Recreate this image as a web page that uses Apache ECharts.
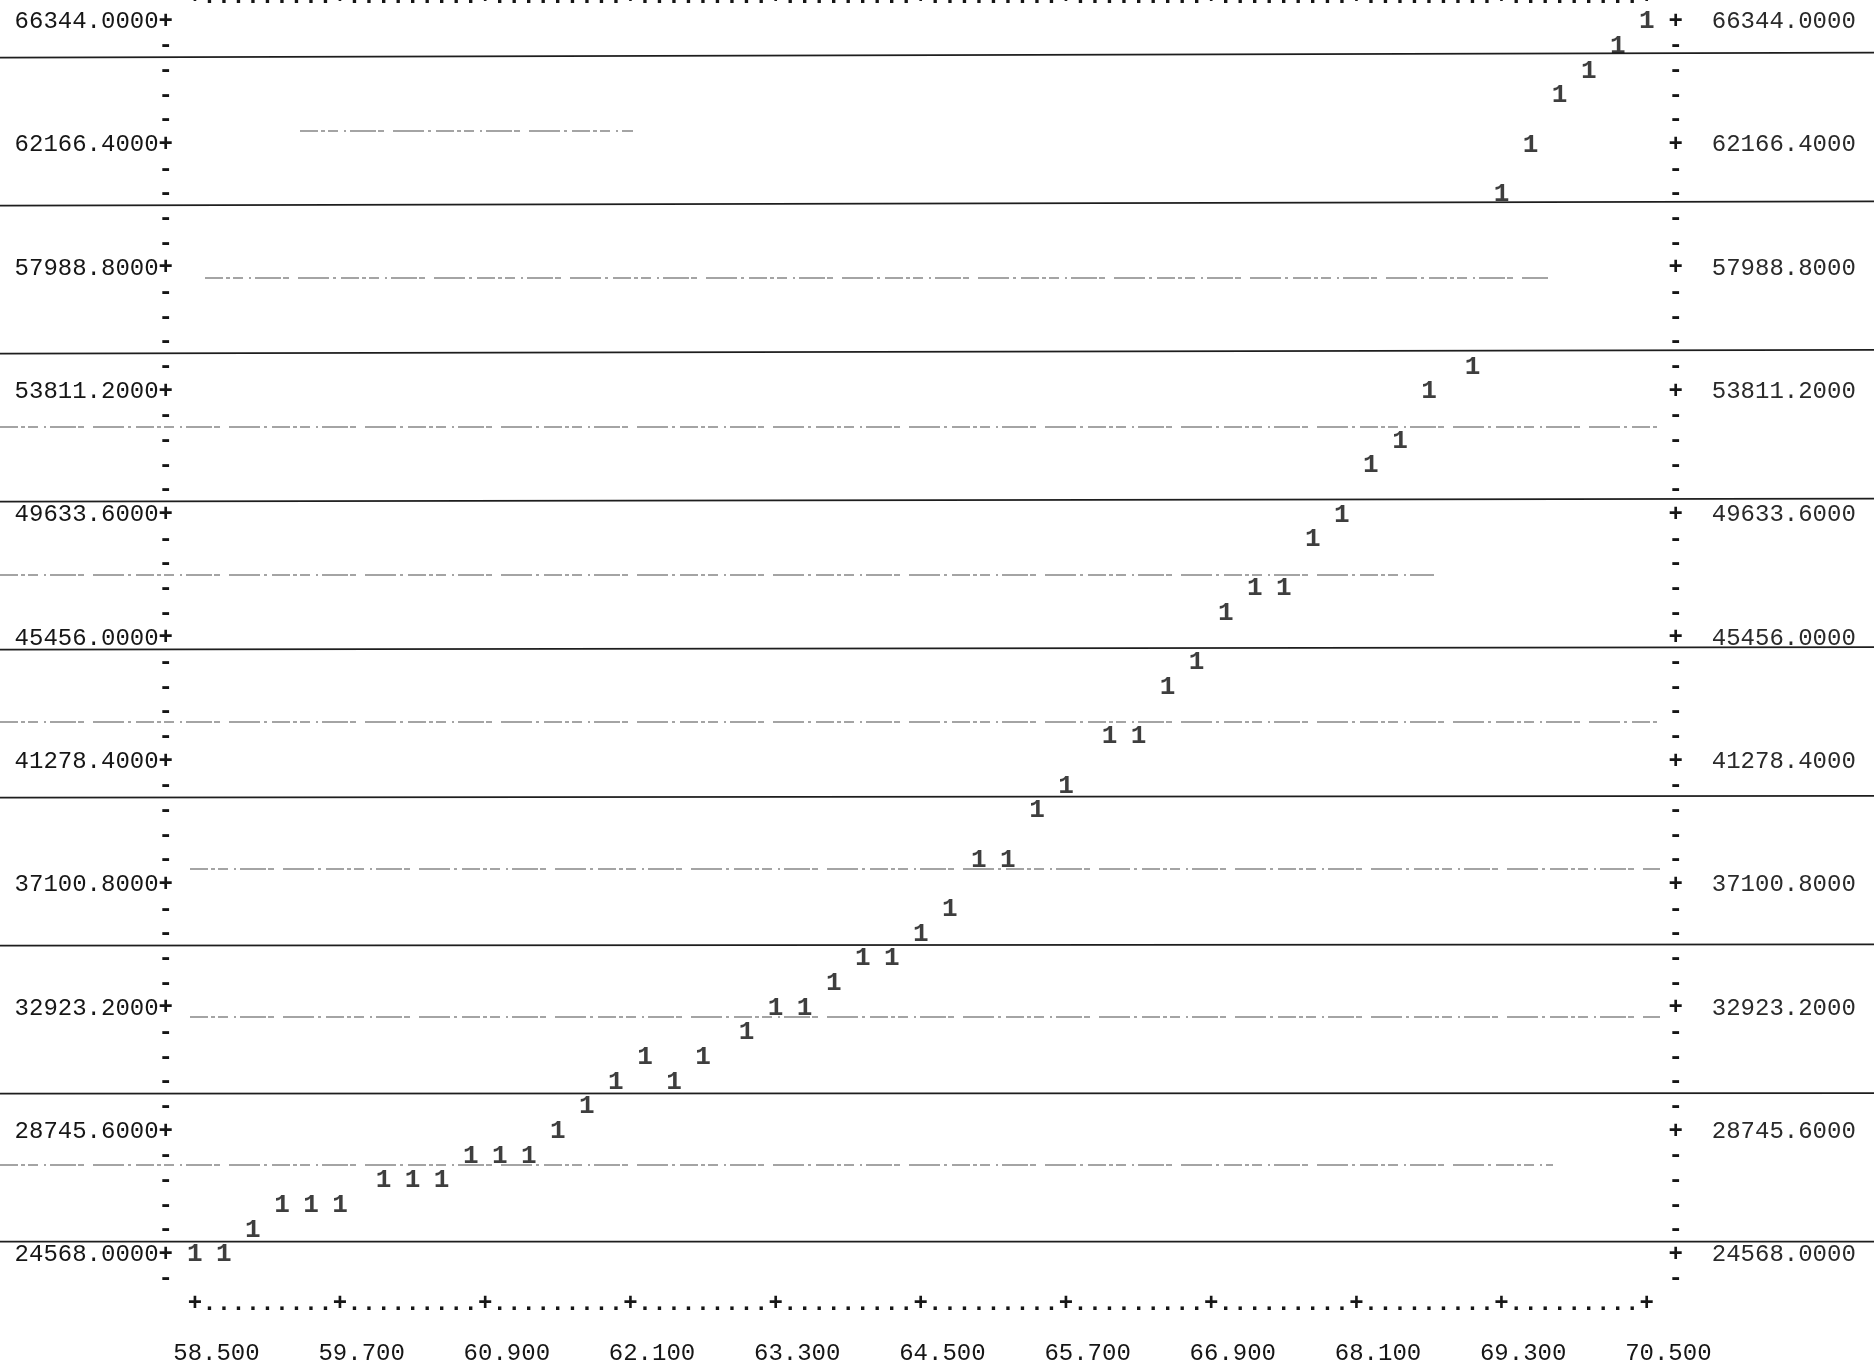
<!DOCTYPE html>
<html>
<head>
<meta charset="utf-8">
<script src="https://cdn.jsdelivr.net/npm/echarts@6/dist/echarts.min.js"></script>
<style>
  html, body { margin: 0; padding: 0; background: #ffffff; }
  #chart { width: 1874px; height: 1366px; }
</style>
</head>
<body>
<div id="chart"></div>
<script>
// Tick labels printed along the axes
const xTickLabels = ['58.500', '59.700', '60.900', '62.100', '63.300', '64.500',
                     '65.700', '66.900', '68.100', '69.300', '70.500'];
const yTickLabels = ['24568.0000', '28745.6000', '32923.2000', '37100.8000', '41278.4000',
                     '45456.0000', '49633.6000', '53811.2000', '57988.8000', '62166.4000', '66344.0000'];

// Plotted points (symbol "1")
const xValues = [58.50, 58.74, 58.98, 59.22, 59.46, 59.70, 60.06, 60.30, 60.54, 60.78,
                 61.02, 61.26, 61.50, 61.74, 61.98, 62.22, 62.46, 62.70, 63.06, 63.30,
                 63.54, 63.78, 64.02, 64.26, 64.50, 64.74, 64.98, 65.22, 65.46, 65.70,
                 66.06, 66.30, 66.54, 66.78, 67.02, 67.26, 67.50, 67.74, 67.98, 68.22,
                 68.46, 68.70, 69.06, 69.30, 69.54, 69.78, 70.02, 70.26, 70.50];
const yValues = [24568, 24568, 25404, 26239, 26239, 26239, 27075, 27075, 27075, 27910,
                 27910, 27910, 28746, 29581, 30417, 31252, 30417, 31252, 32088, 32923,
                 32923, 33759, 34594, 34594, 35430, 36265, 37936, 37936, 39607, 40443,
                 42114, 42114, 43785, 44620, 46292, 47127, 47127, 48798, 49634, 51305,
                 52140, 53811, 54647, 60495, 62166, 63837, 64673, 65508, 66344];

// Print grid: 10 columns per x tick, 5 lines per y tick
const COLS_PER_TICK = 10;
const ROWS_PER_TICK = 5;

const xMajor = xTickLabels.map(Number);
const yMajor = yTickLabels.map(Number);
const COL = (xMajor[1] - xMajor[0]) / COLS_PER_TICK;
const ROW = (yMajor[1] - yMajor[0]) / ROWS_PER_TICK;

const xMin = xMajor[0] - 2 * COL;
const xMax = xMajor[xMajor.length - 1] + 2 * COL;
const yMin = yMajor[0] - 2 * ROW;
const yMax = yMajor[yMajor.length - 1] + ROW;

const nCols = (xMajor.length - 1) * COLS_PER_TICK;
const nRows = (yMajor.length - 1) * ROWS_PER_TICK;

const colValues = [];
for (let i = 0; i <= nCols; i++) colValues.push(+(xMajor[0] + i * COL).toFixed(6));
const rowValues = [];
for (let j = -1; j <= nRows; j++) rowValues.push(+(yMajor[0] + j * ROW).toFixed(6));

const colIndex = v => Math.round((v - xMajor[0]) / COL);
const rowIndex = v => Math.round((v - yMajor[0]) / ROW);

const FONT = '"Liberation Mono", "DejaVu Sans Mono", monospace';
const INK = '#161616';
const CHAR_W = 14.4;

const borderRowLabel = {
  customValues: colValues,
  formatter: v => (colIndex(v) % COLS_PER_TICK === 0 ? '+' : '.'),
  verticalAlign: 'middle',
  margin: 0,
  fontFamily: FONT,
  fontSize: 24,
  fontWeight: 'bold',
  color: INK
};

const chart = echarts.init(document.getElementById('chart'), null, { renderer: 'canvas' });

// Ruled paper lines behind the listing
const ruled = [57.7, 205.7, 353.7, 501.7, 649.7, 797.7, 945.7, 1093.7, 1241.7];
const faint = [
  [300, 633, 131], [205, 1548, 278], [0, 1660, 427], [0, 1434, 575],
  [0, 1660, 722], [190, 1660, 869], [190, 1660, 1017], [0, 1553, 1165]
];
const graphics = [];
ruled.forEach((y, k) => {
  const tilt = 5 * (1 - k / 8);
  graphics.push({
    type: 'line', silent: true, z: 0,
    shape: { x1: 0, y1: y, x2: 1874, y2: y - tilt },
    style: { stroke: '#1e1e1e', lineWidth: 1.8 }
  });
});
faint.forEach(([a, b, y]) => {
  graphics.push({
    type: 'line', silent: true, z: 0,
    shape: { x1: a, y1: y, x2: b, y2: y },
    style: { stroke: '#4a4a4a', lineWidth: 1.1, lineDash: [18, 3, 4, 3, 10, 6, 2, 4, 26, 2, 6, 9, 31, 4, 3, 5] }
  });
});

const option = {
  backgroundColor: '#ffffff',
  animation: false,
  grid: {
    left: 165.8, right: 198.2, top: -2.9, bottom: 61.9,
    containLabel: false,
    outerBoundsMode: 'none'
  },
  graphic: graphics,
  xAxis: [
    {
      type: 'value', position: 'bottom', min: xMin, max: xMax,
      axisLine: { show: false }, axisTick: { show: false }, splitLine: { show: false },
      axisLabel: borderRowLabel
    },
    {
      type: 'value', position: 'top', min: xMin, max: xMax,
      axisLine: { show: false }, axisTick: { show: false }, splitLine: { show: false },
      axisLabel: borderRowLabel
    },
    {
      type: 'value', position: 'bottom', offset: 49.3, min: xMin, max: xMax,
      axisLine: { show: false }, axisTick: { show: false }, splitLine: { show: false },
      axisLabel: {
        customValues: xMajor,
        formatter: v => xTickLabels[Math.round(colIndex(v) / COLS_PER_TICK)],
        verticalAlign: 'middle',
        margin: 0,
        padding: [0, 0, 0, 3 * CHAR_W],
        fontFamily: FONT,
        fontSize: 24,
        color: INK
      }
    }
  ],
  yAxis: [
    {
      type: 'value', position: 'left', min: yMin, max: yMax,
      axisLine: { show: false }, axisTick: { show: false }, splitLine: { show: false },
      axisLabel: {
        customValues: rowValues,
        formatter: v => {
          const r = rowIndex(v);
          return r % ROWS_PER_TICK === 0
            ? '{n|' + yTickLabels[r / ROWS_PER_TICK] + '}{t|+}'
            : '{t|-}';
        },
        align: 'right',
        verticalAlign: 'middle',
        margin: -CHAR_W / 2,
        fontFamily: FONT,
        fontSize: 24,
        color: INK,
        rich: {
          n: { fontFamily: FONT, fontSize: 24, color: INK },
          t: { fontFamily: FONT, fontSize: 24, fontWeight: 'bold', color: INK }
        }
      }
    },
    {
      type: 'value', position: 'right', min: yMin, max: yMax,
      axisLine: { show: false }, axisTick: { show: false }, splitLine: { show: false },
      axisLabel: {
        customValues: rowValues,
        formatter: v => {
          const r = rowIndex(v);
          return r % ROWS_PER_TICK === 0
            ? '{t|+}{n|  ' + yTickLabels[r / ROWS_PER_TICK] + '}'
            : '{t|-}';
        },
        align: 'left',
        verticalAlign: 'middle',
        margin: -CHAR_W / 2,
        fontFamily: FONT,
        fontSize: 24,
        color: '#2a2a2a',
        rich: {
          n: { fontFamily: FONT, fontSize: 24, color: '#2a2a2a' },
          t: { fontFamily: FONT, fontSize: 24, fontWeight: 'bold', color: INK }
        }
      }
    }
  ],
  series: [
    {
      type: 'scatter',
      xAxisIndex: 0,
      yAxisIndex: 0,
      z: 5,
      symbolSize: 1,
      itemStyle: { color: 'rgba(0,0,0,0)' },
      data: xValues.map((x, i) => [x, yValues[i]]),
      label: {
        show: true,
        position: 'inside',
        formatter: '1',
        fontFamily: FONT,
        fontSize: 26,
        fontWeight: 'bold',
        color: '#0e0e0e'
      }
    }
  ]
};

chart.setOption(option);
</script>
</body>
</html>
